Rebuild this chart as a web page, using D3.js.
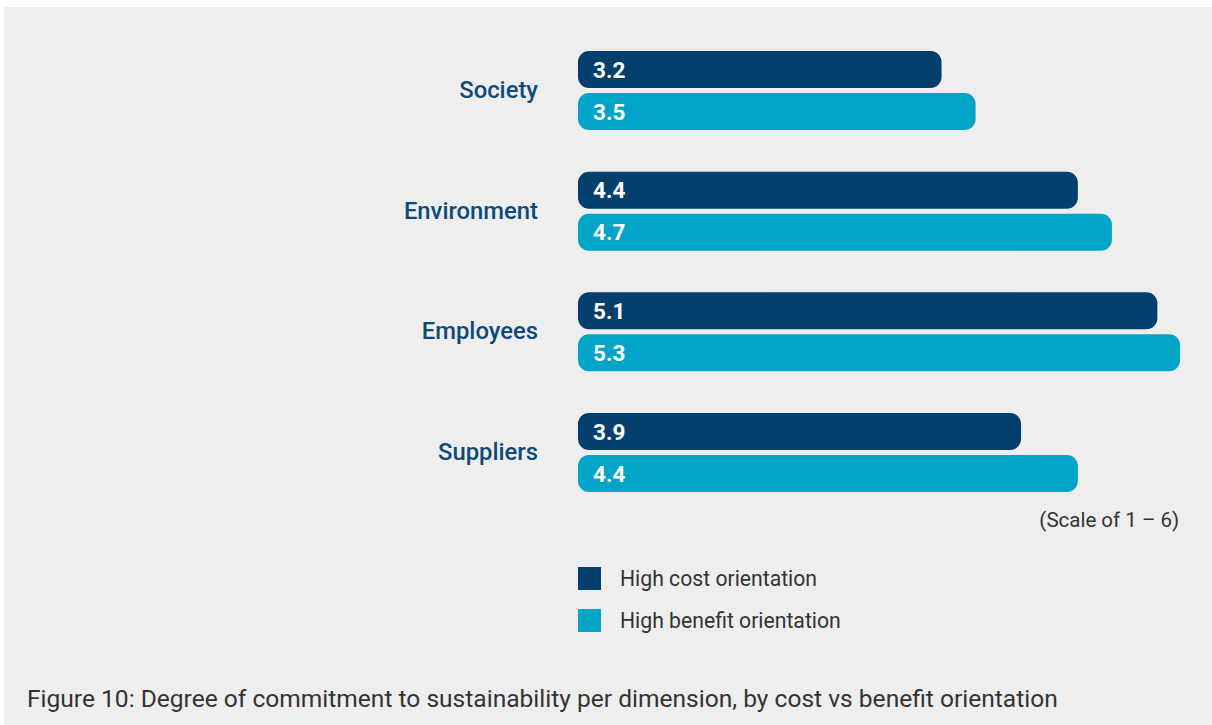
<!DOCTYPE html>
<html>
<head>
<meta charset="utf-8">
<script src="https://cdn.jsdelivr.net/npm/d3@7"></script>
<style>
  html, body { margin: 0; padding: 0; background: #ffffff; }
  svg { display: block; font-family: Roboto, "Noto Sans", sans-serif; }
</style>
</head>
<body>
<svg id="chart" width="1212" height="725"></svg>
<script>
// Dimensions and scores (scale of 1 – 6)
const categories = ["Society", "Environment", "Employees", "Suppliers"];
const costValues = [3.2, 4.4, 5.1, 3.9];
const benefitValues = [3.5, 4.7, 5.3, 4.4];
const seriesNames = ["High cost orientation", "High benefit orientation"];
const seriesColors = ["#023f6d", "#00a4c6"];
const scaleNote = "(Scale of 1 – 6)";
const caption = "Figure 10: Degree of commitment to sustainability per dimension, by cost vs benefit orientation";

const svg = d3.select("#chart");

// light grey panel behind everything
svg.append("rect")
  .attr("x", 4).attr("y", 7)
  .attr("width", 1212 - 4).attr("height", 725 - 7)
  .attr("fill", "#eeeeee");

const x = d3.scaleLinear().domain([0, 6]).range([578, 578 + 6 * 113.6]);
const y = d3.scaleBand().domain(categories).range([51, 492]).paddingInner(0.345).paddingOuter(0);
const sub = d3.scaleBand().domain([0, 1]).range([0, y.bandwidth()]).paddingInner(0.119);

const rows = categories.map((c, i) => ({ cat: c, vals: [costValues[i], benefitValues[i]] }));

const g = svg.append("g");

const grp = g.selectAll("g.cat").data(rows).join("g")
  .attr("class", "cat")
  .attr("transform", d => `translate(0,${y(d.cat)})`);

grp.append("text")
  .attr("x", 538)
  .attr("y", y.bandwidth() / 2 - 1)
  .attr("dy", "0.36em")
  .attr("text-anchor", "end")
  .attr("fill", "#0c4a7c")
  .attr("font-size", 23.8)
  .attr("font-weight", 500)
  .text(d => d.cat);

const bars = grp.selectAll("g.bar").data(d => d.vals.map((v, k) => ({ v, k }))).join("g")
  .attr("class", "bar");

bars.append("rect")
  .attr("x", x(0))
  .attr("y", d => sub(d.k))
  .attr("width", d => x(d.v) - x(0))
  .attr("height", sub.bandwidth())
  .attr("rx", 11)
  .attr("fill", d => seriesColors[d.k]);

bars.append("text")
  .attr("x", x(0) + 15)
  .attr("y", d => sub(d.k) + sub.bandwidth() / 2)
  .attr("dy", "0.36em")
  .attr("fill", "#ffffff")
  .attr("font-size", 22.5)
  .attr("font-weight", 700)
  .text(d => d3.format(".1f")(d.v));

// scale note
svg.append("text")
  .attr("x", x(5.3) - 1)
  .attr("y", 527)
  .attr("text-anchor", "end")
  .attr("fill", "#333333")
  .attr("font-size", 20.5)
  .text(scaleNote);

// legend
const leg = svg.append("g").attr("transform", "translate(578,567)");
const li = leg.selectAll("g").data(seriesNames).join("g")
  .attr("transform", (d, i) => `translate(0,${i * 42})`);
li.append("rect").attr("width", 23).attr("height", 23).attr("fill", (d, i) => seriesColors[i]);
li.append("text")
  .attr("x", 42).attr("y", 11.5).attr("dy", "0.36em")
  .attr("fill", "#333333")
  .attr("font-size", 21.2)
  .text(d => d);

// caption
svg.append("text")
  .attr("x", 27).attr("y", 707)
  .attr("fill", "#333333")
  .attr("font-size", 24.55)
  .text(caption);
</script>
</body>
</html>
